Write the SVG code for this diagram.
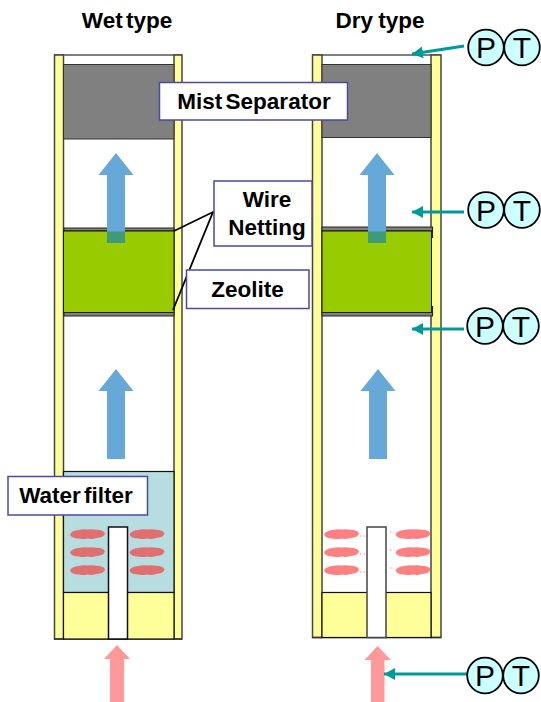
<svg xmlns="http://www.w3.org/2000/svg" width="541" height="702" viewBox="0 0 541 702">
<style>
.wall{fill:#ffff99;stroke:#444;stroke-width:1.5}
.lbl{fill:#fff;stroke:#4a4aa0;stroke-width:1.5}
.t{font-family:"Liberation Sans",Arial,sans-serif;font-weight:bold;font-size:22.5px;fill:#000;text-anchor:middle;word-spacing:-3px}
.m{font-family:"Liberation Sans",Arial,sans-serif;font-size:30px;fill:#000;text-anchor:middle}
.c{fill:#ccffff;stroke:#000;stroke-width:1.8}
.mist{fill:#808080;stroke:#333;stroke-width:1}
.zeo{fill:#99cc00;stroke:#111;stroke-width:1}
.net{fill:#808080;stroke:#222;stroke-width:1}
.box{stroke:#111;stroke-width:1.2}
.blue{fill:#66a8d8}
.over{fill:#3f9a78}
.pink{fill:#ff9999}
.pipe{fill:#fff;stroke:#111;stroke-width:1.5}
.tb{fill:#e07070}
.db{fill:#ff8080}
.sp{stroke-width:1.5;stroke-dasharray:1.5 2;fill:none;opacity:.6}
.lead{stroke:#000;stroke-width:1.8;fill:none}
.tl{stroke:#009999;stroke-width:3;fill:none;marker-end:url(#ah)}
</style>
<defs>
<marker id="ah" markerUnits="userSpaceOnUse" markerWidth="14" markerHeight="14" refX="11" refY="6" orient="auto"><path d="M0 0L11 6L0 12Z" fill="#009999"/></marker>
<path id="blob" d="M-17.500 0.500Q-16-3.500-9-4Q-4-5.200 0-4.500Q5-5.200 9-4.200Q16-4.200 17.500-0.500Q16.500 3.500 9 4Q4 5.500 0 4.500Q-4 5.500-9 4.500Q-16 4.500-17.500 0.500Z"/>
<g id="blobs"><use href="#blob"/><use href="#blob" y="18"/><use href="#blob" y="36"/></g>
<path id="up1" d="M0 0L17.500 22H9V90H-9V22H-17.500Z"/>
</defs>

<g id="wet-column">
<path d="M54 55H182" stroke="#555" stroke-width="1.500" fill="none"/>
<rect class="wall" x="54.500" y="55" width="9" height="584"/>
<rect class="wall" x="174" y="55" width="8" height="584"/>
<path d="M54 639H182" stroke="#333" stroke-width="1.500"/>
<rect class="mist" x="63.500" y="64.500" width="110.500" height="74.500"/>
<rect class="net" x="64" y="228" width="110" height="3"/>
<rect class="zeo" x="63.500" y="231" width="110.500" height="81.500"/>
<rect class="net" x="64" y="312.500" width="110" height="3.500"/>
<rect class="box" x="63.500" y="471.500" width="110.500" height="121" fill="#b7dde0"/>
<rect class="box" x="63.500" y="592.500" width="110.500" height="46.500" fill="#ffff99"/>
<use href="#blobs" class="tb" x="87.500" y="534"/>
<use href="#blobs" class="tb" x="147" y="534"/>
<rect class="pipe" x="108.500" y="527" width="19" height="112"/>
<use href="#up1" class="blue" x="116" y="153"/>
<rect class="over" x="107" y="231.500" width="18" height="11.500"/>
<use href="#up1" class="blue" x="116" y="369"/>
<path class="pink" d="M117 645L130 659H124V702H110V659H104Z"/>
</g>

<g id="dry-column">
<path d="M312 55H441" stroke="#555" stroke-width="1.500" fill="none"/>
<rect class="wall" x="312.500" y="55" width="9.500" height="582.500"/>
<rect class="wall" x="431" y="55" width="10" height="582.500"/>
<path d="M312 637.500H441" stroke="#333" stroke-width="1.500"/>
<rect class="mist" x="322" y="64.500" width="109" height="73"/>
<rect class="net" x="322" y="227" width="110.500" height="4"/>
<rect class="zeo" x="322" y="231" width="109.500" height="81.500"/>
<rect class="net" x="322" y="312.500" width="110.500" height="3.500"/>
<path d="M432.500 227V238M432.500 306V316" stroke="#222" stroke-width="1.200" fill="none"/>
<rect class="box" x="322" y="592.500" width="109" height="45" fill="#ffff99"/>
<use href="#blobs" class="db" x="341.500" y="534"/>
<use href="#blobs" class="db" x="413" y="534"/>
<path class="sp" stroke="#ff8080" d="M360 536H365M360 554H365M360 572H365M390 532H394M390 550H394M390 568H394"/>
<rect class="pipe" x="367" y="527" width="19" height="110.500" style="stroke:#444"/>
<use href="#up1" class="blue" x="377" y="153"/>
<rect class="over" x="368" y="231.500" width="18" height="11.500"/>
<use href="#up1" class="blue" x="378" y="369"/>
<path class="pink" d="M377.500 646L391 660H384.500V702H371V660H364.500Z"/>
</g>

<g id="connectors">
<path class="lead" d="M174 231L213 212L173 310"/>
<path class="tl" d="M464 46L412 54"/>
<path class="tl" d="M464 212H412"/>
<path class="tl" d="M464 329H412"/>
<path class="tl" d="M467 674H384"/>
</g>

<text class="t" x="127" y="28">Wet type</text>
<text class="t" x="380" y="28" style="word-spacing:-1px">Dry type</text>

<g id="label-mist"><rect class="lbl" x="159.500" y="82.500" width="188" height="37.500"/><text class="t" x="254" y="109">Mist Separator</text></g>
<g id="label-wire"><rect class="lbl" x="214" y="181" width="98" height="65"/><text class="t" x="267" y="207">Wire</text><text class="t" x="267" y="235">Netting</text></g>
<g id="label-zeolite"><rect class="lbl" x="186.500" y="270" width="122.500" height="38.500"/><text class="t" x="247.500" y="297">Zeolite</text></g>
<g id="label-water"><rect class="lbl" x="8" y="476.500" width="139.500" height="38.500"/><text class="t" x="76" y="503">Water filter</text></g>

<g id="pt1"><circle class="c" cx="486" cy="47.500" r="17.800"/><circle class="c" cx="522" cy="47.500" r="17.800"/><text class="m" x="486" y="58">P</text><text class="m" x="522" y="58">T</text></g>
<g id="pt2"><circle class="c" cx="486" cy="210" r="17.800"/><circle class="c" cx="522" cy="210" r="17.800"/><text class="m" x="486" y="221">P</text><text class="m" x="522" y="221">T</text></g>
<g id="pt3"><circle class="c" cx="485" cy="326" r="17.800"/><circle class="c" cx="521" cy="326" r="17.800"/><text class="m" x="485" y="337">P</text><text class="m" x="521" y="337">T</text></g>
<g id="pt4"><circle class="c" cx="485" cy="675.500" r="17.800"/><circle class="c" cx="521" cy="675.500" r="17.800"/><text class="m" x="485" y="686">P</text><text class="m" x="521" y="686">T</text></g>
</svg>
